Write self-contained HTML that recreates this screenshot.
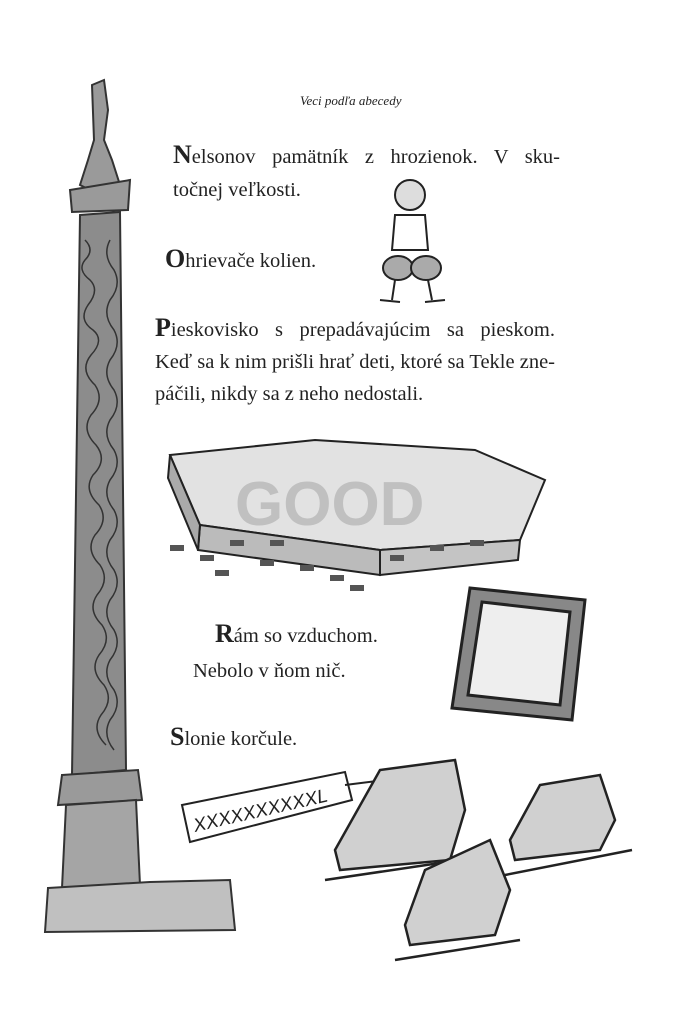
<!DOCTYPE html>
<html><head><meta charset="utf-8"><style>
body{margin:0;width:700px;height:1012px;background:#fff;position:relative;overflow:hidden;font-family:"Liberation Serif",serif;color:#222}
.t{position:absolute;font-size:20.5px;white-space:nowrap;line-height:1}
.j{text-align:justify;text-align-last:justify;white-space:normal}
.c{font-size:26px;font-weight:bold}
</style></head><body>
<svg width="700" height="1012" style="position:absolute;left:0;top:0">
<g stroke="#333" fill="#9a9a9a" stroke-width="2">
<path d="M92 85 L104 80 L108 110 L104 140 L112 160 L120 185 L100 195 L80 185 L88 160 L94 140 Z"/>
<path d="M70 190 L130 180 L128 210 L72 212 Z"/>
<path d="M80 215 L120 212 L126 770 L72 775 Z" fill="#8c8c8c"/>
<path d="M62 775 L138 770 L142 800 L58 805 Z"/>
<path d="M66 805 L136 800 L140 885 L62 888 Z" fill="#a5a5a5"/>
<path d="M48 888 L150 882 L230 880 L235 930 L45 932 Z" fill="#c0c0c0"/>
</g>
<g stroke="#333" fill="none" stroke-width="1.5">
<path d="M85 240 q10 10 0 20 q-8 10 5 20 q10 10 -2 25 q-10 15 5 25 q12 10 -2 25 q-12 15 4 30 q10 15 -4 30 q-10 15 5 30 q12 15 -3 30 q-10 15 6 30 q10 15 -4 30 q-10 15 5 30 q10 15 -3 30 q-10 15 5 30 q10 15 -3 30 q-10 15 5 30 q10 15 -3 30 q-10 15 5 30"/>
<path d="M110 240 q-8 15 4 30 q8 15 -4 30 q-8 15 4 30 q8 15 -4 30 q-8 15 4 30 q8 15 -4 30 q-8 15 4 30 q8 15 -4 30 q-8 15 4 30 q8 15 -4 30 q-8 15 4 30 q8 15 -4 30 q-8 15 4 30 q8 15 -4 30 q-8 15 4 30 q8 15 -4 30 q-8 15 4 30"/>
</g>
<g stroke="#222" fill="none" stroke-width="2">
<circle cx="410" cy="195" r="15" fill="#ddd"/>
<path d="M395 215 L425 215 L428 250 L392 250 Z" fill="#fff"/>
<ellipse cx="398" cy="268" rx="15" ry="12" fill="#aaa"/>
<ellipse cx="426" cy="268" rx="15" ry="12" fill="#aaa"/>
<path d="M395 280 L392 300 M428 280 L432 300 M380 300 L400 302 M425 302 L445 300"/>
</g>
<g stroke="#222" stroke-width="2">
<path d="M170 455 L315 440 L475 450 L545 480 L520 540 L380 550 L200 525 Z" fill="#e2e2e2"/>
<path d="M200 525 L380 550 L380 575 L198 550 Z" fill="#bbb"/>
<path d="M380 550 L520 540 L518 560 L380 575 Z" fill="#c4c4c4"/>
<path d="M170 455 L200 525 L198 550 L168 478 Z" fill="#aaa"/>
</g>
<text x="235" y="525" font-family="Liberation Sans" font-weight="bold" font-size="62" fill="#aaa" opacity=".6">GOOD</text>
<g fill="#555">
<rect x="170" y="545" width="14" height="6"/><rect x="200" y="555" width="14" height="6"/><rect x="230" y="540" width="14" height="6"/><rect x="260" y="560" width="14" height="6"/><rect x="300" y="565" width="14" height="6"/><rect x="330" y="575" width="14" height="6"/><rect x="350" y="585" width="14" height="6"/><rect x="390" y="555" width="14" height="6"/><rect x="430" y="545" width="14" height="6"/><rect x="470" y="540" width="14" height="6"/><rect x="215" y="570" width="14" height="6"/><rect x="270" y="540" width="14" height="6"/>
</g>
<g stroke="#222" stroke-width="3">
<path d="M470 588 L585 600 L572 720 L452 708 Z" fill="#888"/>
<path d="M482 602 L570 612 L560 705 L468 695 Z" fill="#eee"/>
</g>
<g stroke="#222" stroke-width="2">
<path d="M182 805 L345 772 L352 800 L190 842 Z" fill="#fff"/>
<path d="M345 785 L385 780"/>
</g>
<text x="195" y="832" font-family="Liberation Sans" font-style="italic" font-size="19" fill="#222" transform="rotate(-13 195 832)">XXXXXXXXXXL</text>
<g stroke="#222" stroke-width="2.5" fill="#d0d0d0">
<path d="M335 850 L380 770 L455 760 L465 810 L450 860 L340 870 Z"/>
<path d="M325 880 L460 860" fill="none"/>
<path d="M510 840 L540 785 L600 775 L615 820 L600 850 L515 860 Z"/>
<path d="M505 875 L632 850" fill="none"/>
<path d="M405 925 L425 870 L490 840 L510 890 L495 935 L410 945 Z"/>
<path d="M395 960 L520 940" fill="none"/>
</g>
</svg>
<div class="t" style="left:300px;top:94px;font-size:13px;font-style:italic">Veci podľa abecedy</div>
<div class="t j" style="left:173px;top:142px;width:387px"><span class="c">N</span>elsonov pamätník z hrozienok. V sku-</div>
<div class="t" style="left:173px;top:180px">točnej veľkosti.</div>
<div class="t" style="left:165px;top:246px"><span class="c">O</span>hrievače kolien.</div>
<div class="t j" style="left:155px;top:315px;width:400px"><span class="c">P</span>ieskovisko s prepadávajúcim sa pieskom.</div>
<div class="t j" style="left:155px;top:352px;width:400px">Keď sa k nim prišli hrať deti, ktoré sa Tekle zne-</div>
<div class="t" style="left:155px;top:384px">páčili, nikdy sa z neho nedostali.</div>
<div class="t" style="left:215px;top:621px"><span class="c">R</span>ám so vzduchom.</div>
<div class="t" style="left:193px;top:661px">Nebolo v ňom nič.</div>
<div class="t" style="left:170px;top:724px"><span class="c">S</span>lonie korčule.</div>
</body></html>
